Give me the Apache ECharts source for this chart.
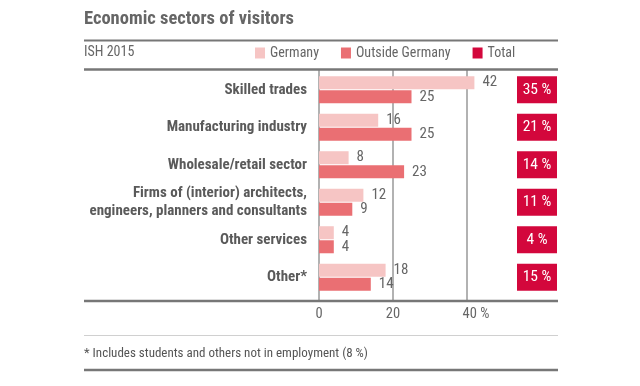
<!DOCTYPE html>
<html><head><meta charset="utf-8">
<script src="https://cdn.jsdelivr.net/npm/echarts@6/dist/echarts.min.js"></script>
<style>html,body{margin:0;padding:0;background:#fff}#c{width:640px;height:386px}</style>
</head><body><div id="c"></div>
<script>
const categories = ['Skilled trades','Manufacturing industry','Wholesale/retail sector','Firms of (interior) architects,\nengineers, planners and consultants','Other services','Other*'];
const germany = [42,16,8,12,4,18];
const outside = [25,25,23,9,4,14];
const total = [35,21,14,11,4,15];
const xTicks = [0,20,40];
const seriesNames = ['Germany','Outside Germany','Total'];

const FONT = '"Roboto Condensed","Open Sans Condensed","DejaVu Sans Condensed",sans-serif';
const GREY = '#666';
const RULE = '#777';

const chart = echarts.init(document.getElementById('c'), null, {renderer:'canvas'});
const hline = (y, w, color) => ({type:'line', shape:{x1:84,y1:y,x2:558,y2:y}, style:{stroke:color, lineWidth:w}, z:10});
chart.setOption({
  backgroundColor:'#fff',
  textStyle:{fontFamily:FONT},
  title:{text:'Economic sectors of visitors', left:84, top:10, padding:0,
    textStyle:{fontFamily:FONT, fontSize:18.5, fontWeight:'bold', color:GREY}},
  legend:{left:255, top:46, padding:0, itemWidth:10, itemHeight:11, itemGap:22, icon:'rect',
    data:seriesNames, textStyle:{fontFamily:FONT, fontSize:14, color:GREY}},
  grid:[
    {left:319, top:71, width:148, height:225},
    {left:319, top:69, width:148, height:232},
    {left:517, top:71, width:40, height:225}
  ],
  xAxis:[
    {gridIndex:0, type:'value', min:xTicks[0], max:xTicks[xTicks.length-1], show:false},
    {gridIndex:1, type:'value', min:xTicks[0], max:xTicks[xTicks.length-1], interval:20,
      axisLine:{show:false}, axisTick:{show:false},
      axisLabel:{fontFamily:FONT, fontSize:14.5, color:GREY, margin:6,
        formatter:v => v===40 ? '{p|40 %}' : String(v),
        rich:{p:{fontFamily:FONT, fontSize:14.5, color:GREY, padding:[0,0,0,18]}}},
      splitLine:{show:true, lineStyle:{color:'#999', width:1.5}}},
    {gridIndex:2, type:'category', data:['Total'], show:false}
  ],
  yAxis:[
    {gridIndex:0, type:'category', data:categories, inverse:true,
      axisLine:{show:false}, axisTick:{show:false},
      axisLabel:{fontFamily:FONT, fontSize:15, fontWeight:'bold', color:'#5a5a5a', margin:12, lineHeight:18}},
    {gridIndex:1, type:'value', show:false},
    {gridIndex:2, type:'category', data:categories, inverse:true, show:false}
  ],
  series:[
    {name:'Germany', type:'bar', xAxisIndex:0, yAxisIndex:0, data:germany, barWidth:13, barGap:'8%',
      clip:false, itemStyle:{color:'#f6c5c4'},
      label:{show:true, position:'right', distance:8, fontFamily:FONT, fontSize:15, color:GREY}},
    {name:'Outside Germany', type:'bar', xAxisIndex:0, yAxisIndex:0, data:outside, barWidth:13, barGap:'8%',
      clip:false, itemStyle:{color:'#ea6f73'},
      label:{show:true, position:'right', distance:8, fontFamily:FONT, fontSize:15, color:GREY}},
    {name:'Total', type:'scatter', xAxisIndex:2, yAxisIndex:2,
      data:categories.map((c,i)=>['Total', c, total[i]]),
      symbol:'rect', symbolSize:[40,27], itemStyle:{color:'#d3073c', opacity:1},
      label:{show:true, position:'inside', formatter:p => p.value[2] + ' %',
        fontFamily:FONT, fontSize:15.5, color:'#fff'}}
  ],
  graphic:[
    hline(40.5, 2, RULE),
    hline(69.5, 2.5, RULE),
    hline(301, 2.5, RULE),
    hline(335.5, 1, '#d0d0d0'),
    hline(370, 2.5, RULE),
    {type:'text', left:84, top:45, style:{text:'ISH 2015', font:'14px '+FONT, fill:GREY}},
    {type:'text', left:84, top:347, style:{text:'* Includes students and others not in employment (8 %)', font:'13px '+FONT, fill:'#555'}}
  ]
});
</script></body></html>
